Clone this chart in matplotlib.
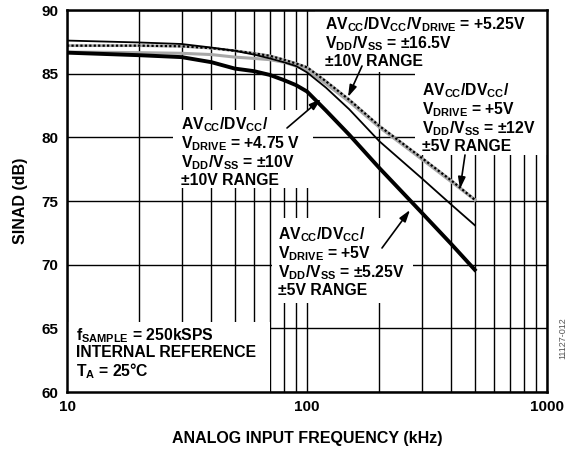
import matplotlib
matplotlib.use("Agg")
import matplotlib.pyplot as plt
from matplotlib.patches import Rectangle
from matplotlib.ticker import FixedLocator, NullFormatter

plt.rcParams['font.family'] = ['Liberation Sans', 'DejaVu Sans']
plt.rcParams['font.weight'] = 'bold'
plt.rcParams['mathtext.fontset'] = 'custom'
plt.rcParams['mathtext.rm'] = 'Liberation Sans:bold'
plt.rcParams['mathtext.bf'] = 'Liberation Sans:bold'
plt.rcParams['mathtext.it'] = 'Liberation Sans:bold'
plt.rcParams['mathtext.sf'] = 'Liberation Sans:bold'

# ---- data ----
freq_khz = [10, 20, 30, 40, 50, 60, 70, 80, 90, 100, 120, 150, 200, 300, 400, 500]
sinad_475v = [87.6, 87.45, 87.33, 87.05, 86.8, 86.5, 86.2, 85.9, 85.6, 85.1, 83.9, 82.2, 79.7, 76.8, 74.7, 73.1]
sinad_5v_12v = [86.7, 86.65, 86.6, 86.5, 86.3, 86.2, 86.1, 85.9, 85.6, 85.3, 84.2, 82.8, 80.8, 78.3, 76.5, 75.1]
sinad_525v = [87.2, 87.2, 87.15, 87.0, 86.8, 86.6, 86.4, 86.1, 85.8, 85.5, 84.4, 82.95, 80.9, 78.4, 76.6, 75.1]
sinad_5v_525v = [86.65, 86.45, 86.3, 85.9, 85.4, 85.2, 84.9, 84.5, 84.1, 83.6, 82.1, 80.2, 77.6, 74.1, 71.6, 69.6]

x_ticks = [10, 100, 1000]
x_ticklabels = ['10', '100', '1000']
y_ticks = [60, 65, 70, 75, 80, 85, 90]

W, H = 573, 453
fig = plt.figure(figsize=(W / 100, H / 100), dpi=100)
L, R, T, B = 67, 547, 10, 392
ax = fig.add_axes([L / W, 1 - B / H, (R - L) / W, (B - T) / H])

ax.set_xscale('log')
ax.set_xlim(10, 1000)
ax.set_ylim(60, 90)

minor = [m * d for d in (10, 100) for m in range(2, 10)]
ax.xaxis.set_major_locator(FixedLocator(x_ticks))
ax.xaxis.set_minor_locator(FixedLocator(minor))
ax.xaxis.set_minor_formatter(NullFormatter())
ax.set_xticklabels(x_ticklabels)
ax.set_yticks(y_ticks)
ax.tick_params(which='both', length=0, labelsize=11, pad=6)
for lab in ax.get_xticklabels() + ax.get_yticklabels():
    lab.set_fontweight('bold')

ax.grid(True, which='both', axis='x', color='black', lw=1.0, zorder=1)
ax.grid(True, which='major', axis='y', color='black', lw=1.0, zorder=1)
ax.set_axisbelow(True)
for s in ax.spines.values():
    s.set_linewidth(1.8)
    s.set_zorder(10)

# white masks behind labels (in pixel layout, converted to axes fraction)
def mask(x0, y0, x1, y1):
    ax.add_patch(Rectangle(((x0 - L) / (R - L), (B - y1) / (B - T)),
                           (x1 - x0) / (R - L), (y1 - y0) / (B - T),
                           transform=ax.transAxes, facecolor='white',
                           edgecolor='none', zorder=2))

mask(315, 10, 547, 72)
mask(415, 72, 547, 155)
mask(173, 110, 313, 188)
mask(272, 218, 413, 303)
mask(67, 322, 270, 392)

# curves
ax.plot(freq_khz, sinad_5v_12v, color='#a8a8a8', lw=2.2, zorder=4)
ax.plot(freq_khz, sinad_525v, color='#a8a8a8', lw=2.0, zorder=4)
ax.plot(freq_khz, sinad_525v, color='black', lw=1.6, ls=(0, (1, 1)), zorder=5)
ax.plot(freq_khz, sinad_475v, color='black', lw=1.3, zorder=5)
ax.plot(freq_khz, sinad_5v_525v, color='black', lw=2.8, zorder=5)

ax.set_xlabel('ANALOG INPUT FREQUENCY (kHz)', fontsize=11.5, fontweight='bold', labelpad=12)
ax.set_ylabel('SINAD (dB)', fontsize=11.5, fontweight='bold', labelpad=10)

FS = 11.3


def ftext(x, y, s, **kw):
    fig.text(x / W, 1 - y / H, s, fontsize=FS, fontweight='bold', va='top', ha='left',
             linespacing=1.05, zorder=20, **kw)

sub = lambda a: r'$_{\rm ' + a + '}$'

ftext(325, 15, 'AV' + sub('CC') + '/DV' + sub('CC') + '/V' + sub('DRIVE') + ' = +5.25V\n'
      'V' + sub('DD') + '/V' + sub('SS') + ' = ±16.5V\n±10V RANGE')
ftext(422, 81, 'AV' + sub('CC') + '/DV' + sub('CC') + '/\nV' + sub('DRIVE') + ' = +5V\n'
      'V' + sub('DD') + '/V' + sub('SS') + ' = ±12V\n±5V RANGE')
ftext(181, 115, 'AV' + sub('CC') + '/DV' + sub('CC') + '/\nV' + sub('DRIVE') + ' = +4.75 V\n'
      'V' + sub('DD') + '/V' + sub('SS') + ' = ±10V\n±10V RANGE')
ftext(278, 225, 'AV' + sub('CC') + '/DV' + sub('CC') + '/\nV' + sub('DRIVE') + ' = +5V\n'
      'V' + sub('DD') + '/V' + sub('SS') + ' = ±5.25V\n±5V RANGE')
ftext(76, 326, 'f' + sub('SAMPLE') + ' = 250kSPS\nINTERNAL REFERENCE\nT' + sub('A') + ' = 25°C')

fig.text(563 / W, 1 - 338 / H, '11127-012', rotation=90, fontsize=6.5, color='#555555',
         fontweight='normal', ha='center', va='center')


def arrow(x0, y0, x1, y1):
    ax.annotate('', xy=(x1 / W, 1 - y1 / H), xytext=(x0 / W, 1 - y0 / H),
                xycoords='figure fraction', textcoords='figure fraction',
                arrowprops=dict(arrowstyle='-|>,head_length=0.7,head_width=0.22',
                                color='black', lw=1.2, shrinkA=0, shrinkB=0),
                zorder=12)

arrow(362, 66, 348, 97)
arrow(465, 155, 460, 189)
arrow(287, 128, 321, 99)
arrow(382, 248, 410, 210)

fig.savefig('out.png', dpi=100)
